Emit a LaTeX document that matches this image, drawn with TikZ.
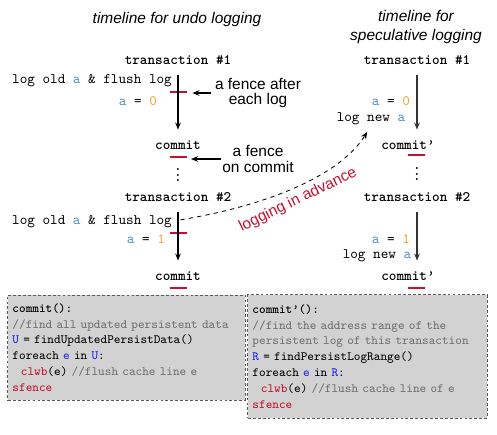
\documentclass[tikz,border=0pt]{standalone}
\usepackage{fontspec}
\setsansfont{Liberation Sans}
\usepackage{xcolor}
\usetikzlibrary{arrows.meta,positioning,calc}
\definecolor{fencered}{HTML}{C8102E}
\definecolor{varblue}{HTML}{4A8CCB}
\definecolor{valorange}{HTML}{F5A01E}
\definecolor{kwblue}{HTML}{1E1EF0}
\definecolor{cmtgray}{HTML}{707070}
\definecolor{boxgray}{HTML}{D2D2D2}
\newcommand{\va}{\textcolor{varblue}{a}}
\newcommand{\vv}[1]{\textcolor{valorange}{#1}}
\newcommand{\kw}[1]{\textcolor{kwblue}{#1}}
\newcommand{\cmt}[1]{\textcolor{cmtgray}{#1}}
\newcommand{\fn}[1]{\textcolor{fencered}{#1}}

\begin{document}
\begin{tikzpicture}[
  x=0.025cm, y=-0.025cm,
  tl/.style={font=\fontsize{10.3}{12}\selectfont\ttfamily, inner sep=1pt,
             text height=7pt, text depth=2pt},
  tx/.style={tl, font=\fontsize{10.3}{12}\selectfont\ttfamily\bfseries},
  title/.style={font=\fontsize{11}{13}\selectfont\sffamily\itshape, align=center},
  note/.style={font=\fontsize{11}{11}\selectfont\sffamily, align=center, inner sep=1pt},
  fence/.style={fill=fencered, minimum width=0.425cm, minimum height=1.5pt, inner sep=0pt},
  dots/.style={font=\fontsize{9}{9}\selectfont\bfseries, inner sep=0pt},
  arrow/.style={-{Stealth[length=5pt,width=4pt]}, line width=0.8pt},
  code/.style={draw=black!65, dash pattern=on 2pt off 1.5pt, line width=0.7pt,
               fill=boxgray, align=left, inner xsep=3pt,
               font=\fontsize{9}{11.3}\selectfont\ttfamily}
]
\useasboundingbox (0,0) rectangle (497,434);

% titles
\node[title] (titleL) at (177,20) {timeline for undo logging};
\node[title] (titleR) at (416,27) {timeline for\\speculative logging};

% undo logging
\node[tx] (tx1L) at (178,61) {transaction \#1};
\node[tl] (logL1) at (92,80) {log old \va{} \& flush log};
\node[fence] (fenceL1) at (178,92) {};
\node[tl] (aL1) at (138,102) {\va{} = \vv{0}};
\node[tx] (commitL1) at (178,146) {commit};
\node[fence] (fenceL2) at (178,157) {};
\node[dots] (dotsL) at (178,171) {$\vdots$};
\node[tx] (tx2L) at (178,198) {transaction \#2};
\node[tl] (logL2) at (92,221) {log old \va{} \& flush log};
\node[fence] (fenceL3) at (178,233) {};
\node[tl] (aL2) at (146,240) {\va{} = \vv{1}};
\node[tx] (commitL2) at (178,277) {commit};
\node[fence] (fenceL4) at (178,288) {};

\node[note] (lblLog) at (258,93) {a fence after\\each log};
\node[note] (lblCommit) at (258,159) {a fence\\on commit};

% speculative logging
\node[tx] (tx1R) at (417,61) {transaction \#1};
\node[tl] (aR1) at (391,102) {\va{} = \vv{0}};
\node[tl] (lognewR1) at (371,118) {log new \va};
\node[tx] (commitR1) at (408,146) {commit’};
\node[fence] (fenceR1) at (416,155) {};
\node[dots] (dotsR) at (417,170) {$\vdots$};
\node[tx] (tx2R) at (417,198) {transaction \#2};
\node[tl] (aR2) at (391,240) {\va{} = \vv{1}};
\node[tl] (lognewR2) at (377,255) {log new \va};
\node[tx] (commitR2) at (408,277) {commit’};
\node[fence] (fenceR2) at (416,288) {};

% arrows
\draw[arrow, shorten <=4pt, shorten >=6pt] (tx1L.south) -- (commitL1.north);
\draw[arrow, shorten <=4pt, shorten >=6pt] (tx2L.south) -- (commitL2.north);
\draw[arrow, black!80, shorten <=4pt, shorten >=6pt] (tx1R.south) -- (tx1R.south |- commitR1.north);
\draw[arrow, black!80, shorten <=4pt, shorten >=6pt] (tx2R.south) -- (tx2R.south |- commitR2.north);
\draw[arrow, shorten <=2pt, shorten >=4pt] (lblLog.west) -- (lblLog.west -| fenceL1.east);
\draw[arrow, shorten >=3pt] (lblCommit.west) -- (lblCommit.west -| fenceL2.east);

\draw[arrow, line width=0.6pt, dashed, shorten <=5pt, shorten >=5pt]
  (logL2.east) .. controls (270,205) and (340,175) .. (lognewR1.south);
\node[note, text=fencered, rotate=26] (advance) at (298,200) {logging in advance};

% code boxes
\node[code, minimum width=5.925cm, minimum height=2.625cm, text width=5.7cm] (codeL) at (126.5,347.5)
  {\textbf{commit():}\\
   \cmt{//find all updated persistent data}\\
   \kw{U} = findUpdatedPersistData()\\
   foreach \kw{e} in \kw{U}:\\
   \ \ \fn{clwb}(e) \cmt{//flush cache line e}\\
   \fn{sfence}};
\node[code, minimum width=5.975cm, minimum height=3.075cm, text width=5.75cm] (codeR) at (367.5,356.5)
  {\textbf{commit’():}\\
   \cmt{//find the address range of the}\\
   \cmt{persistent log of this transaction}\\
   \kw{R} = findPersistLogRange()\\
   foreach \kw{e} in \kw{R}:\\
   \ \ \fn{clwb}(e) \cmt{//flush cache line of e}\\
   \fn{sfence}};
\end{tikzpicture}
\end{document}
